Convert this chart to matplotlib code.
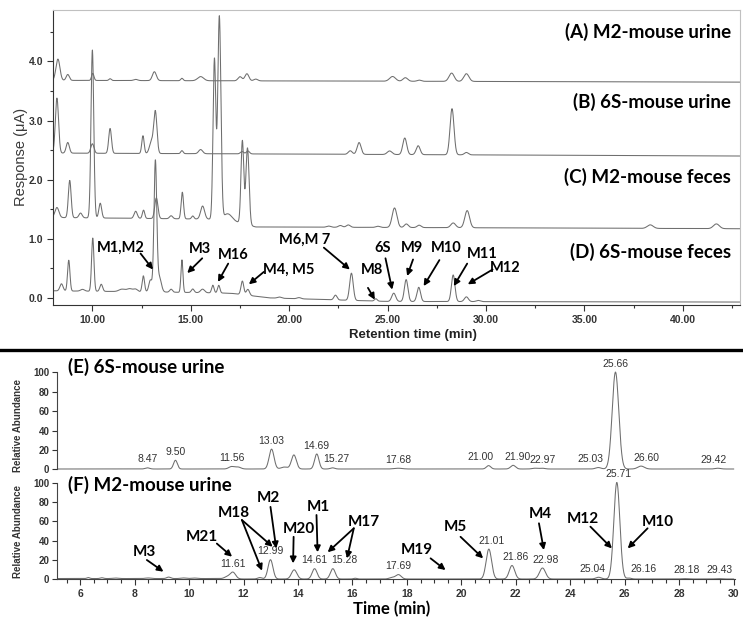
import numpy as np
import matplotlib.pyplot as plt
from matplotlib.lines import Line2D
from matplotlib.ticker import MultipleLocator, FormatStrFormatter

plt.rcParams['font.family'] = ['Liberation Sans', 'DejaVu Sans']

# ---------------- top: HPLC-ECD traces (A)-(D), response in uA ----------------
# baselines: (time, level); peaks: (retention time, height, width)
a_base = [(8.0, 3.68), (43.0, 3.65)]
a_peaks = [(8.25, 0.36, 0.10), (8.75, 0.10, 0.08), (10.02, 0.12, 0.06), (10.9, 0.03, 0.06),
           (12.2, 0.02, 0.10), (13.15, 0.15, 0.10), (14.55, 0.04, 0.06), (15.5, 0.07, 0.15),
           (17.5, 0.07, 0.10), (17.85, 0.12, 0.10), (18.3, 0.03, 0.10), (25.25, 0.08, 0.15),
           (25.9, 0.06, 0.12), (26.6, 0.02, 0.10), (28.25, 0.14, 0.13), (29.0, 0.13, 0.13)]

b_base = [(8.0, 2.45), (43.0, 2.40)]
b_peaks = [(8.2, 0.93, 0.08), (8.75, 0.18, 0.08), (10.0, 0.16, 0.08), (10.9, 0.42, 0.07),
           (12.57, 0.30, 0.06), (13.0, 0.20, 0.10), (13.2, 0.70, 0.08), (14.55, 0.05, 0.06),
           (15.5, 0.07, 0.10), (17.6, 0.04, 0.08), (17.9, 0.05, 0.08), (23.1, 0.06, 0.10),
           (23.55, 0.20, 0.10), (25.1, 0.06, 0.12), (25.87, 0.28, 0.10), (26.55, 0.15, 0.10),
           (28.27, 0.78, 0.10), (29.0, 0.04, 0.10)]

c_base = [(8.0, 1.36), (16.8, 1.33), (18.3, 1.20), (43.0, 1.17)]
c_peaks = [(8.2, 0.17, 0.10), (8.85, 0.63, 0.07), (9.4, 0.08, 0.08), (10.0, 2.84, 0.07),
           (10.4, 0.25, 0.07), (12.2, 0.12, 0.08), (12.6, 0.14, 0.06), (13.25, 0.35, 0.08),
           (14.0, 0.05, 0.08), (14.57, 0.45, 0.06), (15.1, 0.05, 0.06), (15.6, 0.22, 0.10),
           (16.2, 2.70, 0.07), (16.45, 3.43, 0.08), (16.9, 0.10, 0.20), (17.62, 1.40, 0.07),
           (17.88, 1.30, 0.08), (22.0, 0.02, 0.10), (22.6, 0.03, 0.10), (23.0, 0.04, 0.10),
           (24.5, 0.02, 0.10), (25.35, 0.33, 0.12), (25.95, 0.06, 0.10), (26.6, 0.04, 0.10),
           (28.33, 0.08, 0.12), (29.04, 0.29, 0.12), (38.34, 0.06, 0.15), (41.7, 0.08, 0.15)]

d_base = [(8.0, 0.12), (13.5, 0.10), (17.0, 0.08), (19.0, 0.0), (25.0, -0.06), (43.0, -0.07)]
d_peaks = [(8.43, 0.12, 0.08), (8.8, 0.52, 0.06), (9.5, 0.03, 0.10), (10.02, 0.90, 0.06),
           (10.45, 0.12, 0.07), (11.5, 0.04, 0.15), (11.9, 0.05, 0.15), (12.2, 0.04, 0.10),
           (12.59, 0.27, 0.06), (12.95, 0.20, 0.08), (13.2, 2.20, 0.07), (13.4, 0.25, 0.10),
           (14.0, 0.05, 0.07), (14.55, 0.55, 0.05), (15.1, 0.06, 0.07), (15.6, 0.06, 0.10),
           (16.12, 0.13, 0.06), (16.42, 0.13, 0.06), (17.62, 0.23, 0.07), (17.9, 0.10, 0.08),
           (19.5, 0.02, 0.10), (20.5, 0.02, 0.10), (22.35, 0.08, 0.08), (23.16, 0.46, 0.09),
           (24.4, 0.04, 0.07), (25.31, 0.14, 0.10), (25.94, 0.37, 0.09), (26.58, 0.24, 0.09),
           (28.33, 0.45, 0.09), (29.0, 0.08, 0.10), (29.6, 0.02, 0.10)]

panel_names = ["(A) M2-mouse urine", "(B) 6S-mouse urine", "(C) M2-mouse feces", "(D) 6S-mouse feces"]

# ---------------- bottom: LC-MS traces (E), (F), relative abundance ----------------
e_base = [(5.0, 0.3), (30.0, 0.3)]
e_peaks = [(8.47, 1.2, 0.08), (9.50, 9.0, 0.07), (11.56, 2.5, 0.10), (11.8, 2.0, 0.10),
           (13.03, 20.5, 0.09), (13.5, 2.0, 0.12), (13.85, 14.5, 0.09), (14.69, 15.5, 0.08),
           (15.27, 1.2, 0.08), (17.68, 0.8, 0.15), (21.00, 3.5, 0.08), (21.90, 3.8, 0.09),
           (22.7, 0.8, 0.10), (22.97, 0.8, 0.10), (25.03, 1.5, 0.10), (25.66, 100.0, 0.12),
           (26.60, 3.0, 0.12), (29.42, 0.8, 0.10)]
e_labels = ["8.47", "9.50", "11.56", "13.03", "14.69", "15.27", "17.68", "21.00", "21.90",
            "22.97", "25.03", "25.66", "26.60", "29.42"]

f_base = [(5.0, 0.8), (11.0, 0.8), (12.0, 0.3), (30.0, 0.3)]
f_peaks = [(6.3, 1.0, 0.05), (6.8, 0.8, 0.06), (7.3, 0.5, 0.10), (8.5, 0.6, 0.10),
           (9.25, 1.5, 0.07), (9.8, 0.6, 0.10), (10.2, 0.5, 0.10), (11.4, 2.0, 0.10),
           (11.61, 6.8, 0.10), (12.6, 1.5, 0.08), (12.99, 20.0, 0.09), (13.86, 9.5, 0.10),
           (14.61, 10.7, 0.09), (15.28, 10.7, 0.09), (16.1, 0.8, 0.06), (17.45, 1.5, 0.10),
           (17.69, 4.5, 0.10), (21.01, 31.0, 0.10), (21.86, 14.0, 0.10), (22.98, 11.4, 0.11),
           (25.04, 1.8, 0.10), (25.71, 100.0, 0.11), (26.16, 1.0, 0.08), (28.18, 0.4, 0.10),
           (29.43, 0.4, 0.10)]
f_labels = ["11.61", "12.99", "14.61", "15.28", "17.69", "21.01", "21.86", "22.98", "25.04",
            "25.71", "26.16", "28.18", "29.43"]


def chrom(x, base, peaks):
    bx, by = zip(*base)
    y = np.interp(x, bx, by)
    for rt, h, w in peaks:
        y = y + h * np.exp(-0.5 * ((x - rt) / w) ** 2)
    return y


W, H = 743, 620
fig = plt.figure(figsize=(W / 100, H / 100), dpi=100)

def px_axes(x0, y0, x1, y1):
    return fig.add_axes([x0 / W, 1 - y1 / H, (x1 - x0) / W, (y1 - y0) / H])

bold_font = ['Lato', 'DejaVu Sans']
trace_col = '#6e6e6e'

# ---- top panel ----
ax = px_axes(53, 10, 740, 305)
xt = np.linspace(8.0, 43.0, 6000)
for base, peaks in [(a_base, a_peaks), (b_base, b_peaks), (c_base, c_peaks), (d_base, d_peaks)]:
    ax.plot(xt, chrom(xt, base, peaks), color=trace_col, lw=0.75)
ax.set_xlim(8.0, 42.9)
ax.set_ylim(-0.12, 4.87)
ax.xaxis.set_major_locator(MultipleLocator(5))
ax.xaxis.set_minor_locator(MultipleLocator(2.5))
ax.yaxis.set_major_locator(MultipleLocator(1))
ax.yaxis.set_minor_locator(MultipleLocator(0.5))
ax.xaxis.set_major_formatter(FormatStrFormatter('%.2f'))
ax.yaxis.set_major_formatter(FormatStrFormatter('%.1f'))
ax.tick_params(which='major', length=4, width=0.8, labelsize=7.5, colors='#333', pad=3)
ax.tick_params(which='minor', length=2.5, width=0.8, colors='#333')
for lab in ax.get_xticklabels() + ax.get_yticklabels():
    lab.set_fontweight('bold')
for s in ['left', 'bottom']:
    ax.spines[s].set_color('#333')
for s in ['top', 'right']:
    ax.spines[s].set_color('#c0c0c0')

for name, yv in zip(panel_names, [4.50, 3.32, 2.05, 0.77]):
    ax.text(42.45, yv, name, ha='right', va='center', fontsize=13.5,
            fontweight='bold', family=bold_font)

arrow_kw = dict(arrowstyle='-|>', color='k', lw=1.3, mutation_scale=9, shrinkA=0, shrinkB=0)

top_notes = [
    ("M1,M2", (11.44, 0.84), (12.45, 0.75), [(13.08, 0.48)]),
    ("M3", (15.45, 0.82), (15.58, 0.67), [(14.82, 0.42)]),
    ("M16", (17.16, 0.72), (16.90, 0.58), [(16.38, 0.27)]),
    ("M4, M5", (19.98, 0.47), (18.71, 0.44), [(17.95, 0.23)]),
    ("M6,M 7", (20.78, 0.98), (21.76, 0.85), [(23.08, 0.48)]),
    ("M8", (24.21, 0.47), (24.00, 0.17), [(24.35, -0.03)]),
    ("6S", (24.72, 0.84), (24.89, 0.67), [(25.23, 0.14)]),
    ("M9", (26.24, 0.84), (26.29, 0.65), [(25.99, 0.37)]),
    ("M10", (27.98, 0.84), (27.63, 0.64), [(26.83, 0.20)]),
    ("M11", (29.80, 0.74), (29.04, 0.58), [(28.36, 0.20)]),
    ("M12", (30.98, 0.50), (30.33, 0.48), [(29.07, 0.23)]),
]
for txt, pos, tail, heads in top_notes:
    ax.text(pos[0], pos[1], txt, ha='center', va='center', fontsize=10.5,
            fontweight='bold', family=bold_font)
    for hd in heads:
        ax.annotate('', xy=hd, xytext=tail, arrowprops=arrow_kw)

fig.text(20.7 / W, 1 - 157 / H, 'Response (μA)', rotation=90, ha='center', va='center',
         fontsize=10.5, color='#3a3a3a')
fig.text(413 / W, 1 - 335 / H, 'Retention time (min)', ha='center', va='center',
         fontsize=9.5, fontweight='bold', color='#222',
         family=['Liberation Sans Narrow', 'Liberation Sans'])

fig.add_artist(Line2D([0, 1], [1 - 350 / H] * 2, color='k', lw=2.4, transform=fig.transFigure))

# ---- bottom panels ----
xb = np.linspace(5.0, 30.0, 5000)

def ms_panel(axm, base, peaks, labels, dx):
    y = chrom(xb, base, peaks)
    axm.plot(xb, y, color=trace_col, lw=0.75)
    axm.set_xlim(5.15, 30.05)
    axm.yaxis.set_major_locator(MultipleLocator(20))
    axm.spines['top'].set_visible(False)
    axm.spines['right'].set_visible(False)
    axm.spines['left'].set_bounds(0, 100)
    axm.spines['left'].set_color('#444')
    axm.tick_params(axis='y', length=3.5, width=0.8, labelsize=7, colors='#333', pad=2)
    for lab in axm.get_yticklabels():
        lab.set_fontweight('bold')
    for s in labels:
        rt = float(s)
        m = (xb > rt - 0.12) & (xb < rt + 0.12)
        axm.annotate(s, (rt, y[m].max()), xytext=(dx.get(s, 0), 2.5),
                     textcoords='offset points', ha='center', va='bottom',
                     fontsize=7.5, color='#333')
    return y

ax_e = px_axes(57, 367.5, 735, 472.2)
ms_panel(ax_e, e_base, e_peaks, e_labels,
         {"15.27": 3, "21.00": -6, "21.90": 3, "25.03": -5.5, "26.60": 4, "29.42": -3})
ax_e.set_ylim(-3, 105)
ax_e.spines['bottom'].set_visible(False)
ax_e.set_xticks([])
ax_e.text(5.56, 106, "(E) 6S-mouse urine", ha='left', va='center', fontsize=13.5,
          fontweight='bold', family=bold_font)

ax_f = px_axes(57, 477.9, 735, 579.3)
ms_panel(ax_f, f_base, f_peaks, f_labels,
         {"15.28": 8, "21.01": 2, "21.86": 2.5, "22.98": 2.5, "25.04": -4.7, "25.71": 1.5,
          "26.16": 10.5, "28.18": 1.5, "29.43": 1})
ax_f.set_ylim(0, 105)
ax_f.xaxis.set_major_locator(MultipleLocator(2))
ax_f.xaxis.set_minor_locator(MultipleLocator(0.5))
ax_f.spines['bottom'].set_color('#444')
ax_f.tick_params(axis='x', which='major', length=4, width=0.8, labelsize=7.5, colors='#333', pad=3)
ax_f.tick_params(axis='x', which='minor', length=3, width=0.8, colors='#333')
for lab in ax_f.get_xticklabels():
    lab.set_fontweight('bold')
ax_f.text(5.56, 97.6, "(F) M2-mouse urine", ha='left', va='center', fontsize=13.5,
          fontweight='bold', family=bold_font)

f_notes = [
    ("M3", (8.35, 28.6), (8.45, 20.0), [(9.06, 7.9)]),
    ("M21", (10.47, 44.0), (11.02, 37.0), [(11.58, 23.4)]),
    ("M18", (11.64, 69.0), (11.94, 61.4), [(13.07, 33.7), (12.68, 8.9)]),
    ("M2", (12.92, 83.8), (12.99, 75.0), [(13.20, 32.0)]),
    ("M20", (14.05, 52.0), (13.84, 44.0), [(13.82, 16.5)]),
    ("M1", (14.76, 75.0), (14.68, 66.6), [(14.72, 28.0)]),
    ("M17", (16.42, 59.6), (16.05, 52.8), [(15.09, 28.0), (15.80, 21.7)]),
    ("M19", (18.35, 30.3), (18.87, 21.7), [(19.42, 9.6)]),
    ("M5", (19.79, 53.8), (19.97, 44.0), [(20.80, 21.7)]),
    ("M4", (22.91, 67.6), (22.85, 58.0), [(23.03, 30.3)]),
    ("M12", (24.46, 62.0), (24.74, 54.5), [(25.53, 32.0)]),
    ("M10", (27.21, 59.6), (26.84, 52.8), [(26.11, 32.0)]),
]
for txt, pos, tail, heads in f_notes:
    ax_f.text(pos[0], pos[1], txt, ha='center', va='center', fontsize=11,
              fontweight='bold', family=bold_font)
    for hd in heads:
        ax_f.annotate('', xy=hd, xytext=tail, arrowprops=arrow_kw)

for yc in [425, 531]:
    fig.text(18 / W, 1 - yc / H, 'Relative Abundance', rotation=90, ha='center', va='center',
             fontsize=7, fontweight='bold', color='#333')
fig.text(392 / W, 1 - 609 / H, 'Time (min)', ha='center', va='center', fontsize=12,
         fontweight='bold', family=bold_font)

fig.savefig('out.png', dpi=100)
